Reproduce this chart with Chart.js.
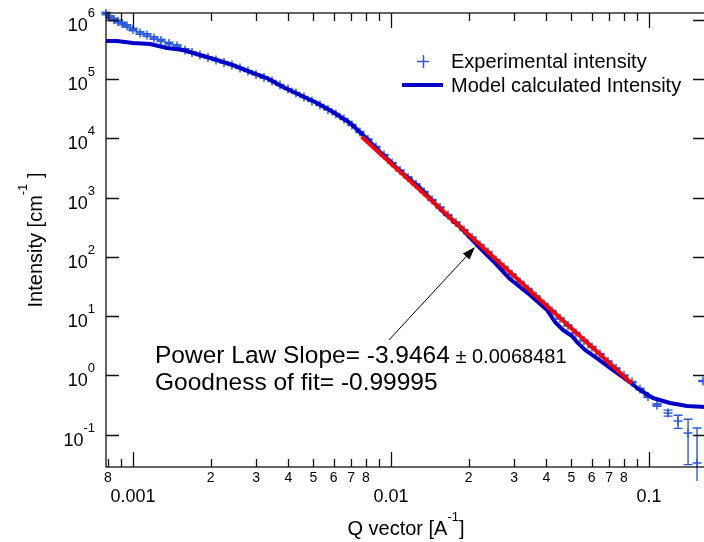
<!DOCTYPE html>
<html>
<head>
<meta charset="utf-8">
<script src="https://cdn.jsdelivr.net/npm/chart.js@4.4.1/dist/chart.umd.min.js"></script>
<style>
    html, body { margin: 0; padding: 0; background: #fff; overflow: hidden; }
    #wrap { width: 704px; height: 542px; overflow: hidden; }
</style>
</head>
<body>
<div id="wrap"><canvas id="chart" width="716" height="542"></canvas></div>
<script>

//
// Data
//

const expQ = [0.000786, 0.000814, 0.000844, 0.000875, 0.000907, 0.000948, 0.001, 0.001065, 0.001133, 0.001206,
    0.001284, 0.001379, 0.001481, 0.001591, 0.001693, 0.001818, 0.001953, 0.002098, 0.002253, 0.002419,
    0.002599, 0.002791, 0.002998, 0.003219, 0.003458, 0.003713, 0.003988, 0.004282, 0.004599, 0.004939,
    0.005305, 0.005697, 0.006118, 0.006571, 0.007057, 0.007579, 0.00814, 0.008742, 0.009395, 0.01009,
    0.01084, 0.01164, 0.0125, 0.01343, 0.01442, 0.01549, 0.01663, 0.01786, 0.01918, 0.0206,
    0.02213, 0.02376, 0.02552, 0.02741, 0.02944, 0.03162, 0.03396, 0.03648, 0.03917, 0.04207,
    0.04519, 0.04853, 0.05212, 0.05598, 0.06012, 0.06457, 0.06935, 0.07448, 0.07999, 0.08591,
    0.09227, 0.09911, 0.1074, 0.1185, 0.1296, 0.1417, 0.1535, 0.1619];

const expI = [1.29e6, 1.128e6, 1.024e6, 9.47e5, 8.76e5, 7.95e5, 6.94e5, 6.05e5, 5.60e5, 4.98e5,
    4.52e5, 4.02e5, 3.65e5, 3.13e5, 2.84e5, 2.57e5, 2.34e5, 2.12e5, 1.92e5, 1.74e5,
    1.55e5, 1.38e5, 1.21e5, 1.07e5, 9.36e4, 8.01e4, 6.86e4, 5.87e4, 5.02e4, 4.30e4,
    3.68e4, 3.09e4, 2.59e4, 2.14e4, 1.69e4, 1.29e4, 9620, 7190, 5260, 3860,
    2880, 2190, 1670, 1250, 914, 683, 510, 381, 285, 213,
    159, 121, 88.6, 67.5, 50.4, 37.7, 28.7, 21.4, 16.0, 12.2,
    9.11, 6.94, 5.18, 3.87, 3.01, 2.29, 1.71, 1.30, 0.992, 0.770,
    0.587, 0.438, 0.315, 0.231, 0.169, 0.106, 0.033, 0.801];

const expErr = [6.5e4, 5.6e4, 5.1e4, 4.7e4, 4.4e4, 4.0e4, 3.5e4, 3.0e4, 2.8e4, 2.5e4,
    2.3e4, 2.0e4, 1.8e4, 1.6e4, 5700, 5100, 4700, 4200, 3800, 3500,
    3100, 2800, 2400, 2100, 1900, 1600, 1400, 1200, 1000, 860,
    740, 620, 520, 430, 340, 260, 190, 140, 105, 77,
    58, 44, 33, 25, 18, 14, 10, 7.6, 5.7, 4.3,
    3.2, 2.4, 1.8, 1.4, 1.0, 0.75, 0.57, 0.43, 0.32, 0.24,
    0.18, 0.14, 0.10, 0.08, 0.06, 0.05, 0.04, 0.03, 0.025, 0.02,
    0.018, 0.016, 0.015, 0.027, 0.042, 0.075, 0.096, 0.02];

const modelQ = [0.000786, 0.000867, 0.001, 0.001164, 0.001355, 0.001563, 0.001818, 0.002116, 0.002441, 0.002842,
    0.003307, 0.003815, 0.004439, 0.005166, 0.00596, 0.006935, 0.00779, 0.009066, 0.01084, 0.01296,
    0.01549, 0.01851, 0.02154, 0.02486, 0.02892, 0.03458, 0.04024, 0.04321, 0.04642, 0.05029,
    0.05259, 0.05648, 0.06175, 0.0706, 0.08216, 0.09227, 0.1036, 0.1206, 0.1404, 0.1663];

const modelI = [4.44e5, 4.44e5, 4.10e5, 3.95e5, 3.38e5, 3.13e5, 2.57e5, 2.12e5, 1.74e5, 1.33e5,
    1.05e5, 7.41e4, 5.43e4, 3.98e4, 2.80e4, 1.83e4, 1.15e4, 5920, 2830, 1460,
    645, 320, 159, 85.3, 42.3, 22.7, 12.7, 7.95, 5.82, 4.61,
    3.65, 2.68, 2.04, 1.33, 0.832, 0.564, 0.414, 0.340, 0.303, 0.291];

// power law fit segment (end points)
const fitQ = [0.0077, 0.08568];
const fitI = [10720, 0.7325];

// arrow of the annotation: tail, head
const arrowQ = [0.00982, 0.02117];
const arrowI = [3.95, 146.9];

const xMajorTicks = [0.001, 0.01, 0.1];
const xMajorLabels = ["0.001", "0.01", "0.1"];
const xMinorTicks = [0.0008, 0.0009, 0.002, 0.003, 0.004, 0.005, 0.006, 0.007, 0.008, 0.009,
    0.02, 0.03, 0.04, 0.05, 0.06, 0.07, 0.08, 0.09];
const xMinorLabels = ["8", "", "2", "3", "4", "5", "6", "7", "8", "",
    "2", "3", "4", "5", "6", "7", "8", ""];

const yMajorTicks = [0.1, 1, 10, 100, 1000, 1e4, 1e5, 1e6];
const yExponents = ["-1", "0", "1", "2", "3", "4", "5", "6"];

const FONT = '"Liberation Sans", Arial, sans-serif';
const EXP_COLOR = "#2a5ade";
const MODEL_COLOR = "#0000c8";
const FIT_COLOR = "#ff0000";

//
// helpers
//

function drawRich(ctx, parts, x, y, align) {
    let w = 0;
    parts.forEach(p => {
        ctx.font = p.font;
        p.w = ctx.measureText(p.text).width;
        w += p.w;
    });
    let cx = align === "center" ? x - w / 2 : align === "right" ? x - w : x;
    ctx.textAlign = "left";
    ctx.textBaseline = "alphabetic";
    parts.forEach(p => {
        ctx.font = p.font;
        ctx.fillText(p.text, cx, y + (p.dy || 0));
        cx += p.w;
    });
}

//
// Error bars (under the markers)
//

const errorBarPlugin = {
    id: "errorBars",

    beforeDatasetsDraw(chart) {
        const { ctx, chartArea: { left, right, top, bottom }, scales: { x, y } } = chart;

        ctx.save();
        ctx.beginPath();
        ctx.rect(left - 8, top - 4, right - left + 8, bottom - top + 18);
        ctx.clip();

        ctx.strokeStyle = EXP_COLOR;
        ctx.lineWidth = 1.4;

        for (let i = 0; i < expQ.length; i++) {
            const px = x.getPixelForValue(expQ[i]);
            const hi = y.getPixelForValue(expI[i] + expErr[i]);
            const lowVal = expI[i] - expErr[i];
            const hasLow = lowVal > y.min;
            const lo = hasLow ? y.getPixelForValue(lowVal) : bottom + 14;

            ctx.beginPath();
            ctx.moveTo(px, hi);
            ctx.lineTo(px, lo);
            ctx.moveTo(px - 4.5, hi);
            ctx.lineTo(px + 4.5, hi);
            if (hasLow) {
                ctx.moveTo(px - 4.5, lo);
                ctx.lineTo(px + 4.5, lo);
            }
            ctx.stroke();
        }

        ctx.restore();
    }
};

//
// Igor style axes, labels, legend and annotation
//

const igorFramePlugin = {
    id: "igorFrame",

    afterDraw(chart) {
        const { ctx, chartArea: { left, right, top, bottom }, scales: { x, y } } = chart;

        ctx.save();

        // frame
        ctx.strokeStyle = "#111";
        ctx.lineWidth = 1.3;
        ctx.strokeRect(left, top, right - left, bottom - top);

        // x ticks, bottom and top, pointing inward
        ctx.beginPath();
        xMajorTicks.forEach(v => {
            const px = Math.round(x.getPixelForValue(v)) + 0.5;
            ctx.moveTo(px, bottom); ctx.lineTo(px, bottom - 15);
            ctx.moveTo(px, top); ctx.lineTo(px, top + 15);
        });
        xMinorTicks.forEach(v => {
            const px = Math.round(x.getPixelForValue(v)) + 0.5;
            ctx.moveTo(px, bottom); ctx.lineTo(px, bottom - 8);
            ctx.moveTo(px, top); ctx.lineTo(px, top + 8);
        });
        // y ticks, left and right
        yMajorTicks.forEach(v => {
            const py = Math.round(y.getPixelForValue(v)) + 0.5;
            ctx.moveTo(left, py); ctx.lineTo(left + 13, py);
            ctx.moveTo(right, py); ctx.lineTo(right - 13, py);
        });
        ctx.stroke();

        ctx.fillStyle = "#000";

        // x tick labels
        ctx.textAlign = "center";
        ctx.textBaseline = "alphabetic";
        ctx.font = "14px " + FONT;
        xMinorTicks.forEach((v, i) => {
            if (xMinorLabels[i]) ctx.fillText(xMinorLabels[i], x.getPixelForValue(v), bottom + 15);
        });
        ctx.font = "18px " + FONT;
        xMajorTicks.forEach((v, i) => {
            ctx.fillText(xMajorLabels[i], x.getPixelForValue(v), bottom + 35);
        });

        // y tick labels (10 with superscript)
        yMajorTicks.forEach((v, i) => {
            const py = y.getPixelForValue(v);
            drawRich(ctx, [
                { text: "10", font: "18px " + FONT },
                { text: yExponents[i], font: "13px " + FONT, dy: -14 }
            ], 95, py + 11, "right");
        });

        // axis titles
        drawRich(ctx, [
            { text: "Q vector [A", font: "20px " + FONT },
            { text: "-1", font: "13px " + FONT, dy: -14 },
            { text: "]", font: "20px " + FONT }
        ], (left + right) / 2, 535, "center");

        ctx.save();
        ctx.translate(42, (top + bottom) / 2);
        ctx.rotate(-Math.PI / 2);
        drawRich(ctx, [
            { text: "Intensity [cm", font: "20px " + FONT },
            { text: "-1", font: "13px " + FONT, dy: -15 },
            { text: " ]", font: "20px " + FONT }
        ], 0, 0, "center");
        ctx.restore();

        // legend
        ctx.strokeStyle = EXP_COLOR;
        ctx.lineWidth = 1.5;
        ctx.beginPath();
        ctx.moveTo(417, 61.5); ctx.lineTo(429, 61.5);
        ctx.moveTo(423.5, 55); ctx.lineTo(423.5, 68);
        ctx.stroke();

        ctx.strokeStyle = MODEL_COLOR;
        ctx.lineWidth = 4;
        ctx.beginPath();
        ctx.moveTo(402, 85); ctx.lineTo(443, 85);
        ctx.stroke();

        ctx.fillStyle = "#000";
        ctx.font = "20px " + FONT;
        ctx.textAlign = "left";
        ctx.fillText("Experimental intensity", 451, 68);
        ctx.fillText("Model calculated Intensity", 451, 92);

        // annotation arrow
        const x0 = x.getPixelForValue(arrowQ[0]);
        const y0 = y.getPixelForValue(arrowI[0]);
        const x1 = x.getPixelForValue(arrowQ[1]);
        const y1 = y.getPixelForValue(arrowI[1]);
        const ang = Math.atan2(y1 - y0, x1 - x0);

        ctx.strokeStyle = "#000";
        ctx.lineWidth = 1;
        ctx.beginPath();
        ctx.moveTo(x0, y0);
        ctx.lineTo(x1 - 10 * Math.cos(ang), y1 - 10 * Math.sin(ang));
        ctx.stroke();

        ctx.beginPath();
        ctx.moveTo(x1, y1);
        ctx.lineTo(x1 - 13 * Math.cos(ang) + 4.5 * Math.sin(ang), y1 - 13 * Math.sin(ang) - 4.5 * Math.cos(ang));
        ctx.lineTo(x1 - 13 * Math.cos(ang) - 4.5 * Math.sin(ang), y1 - 13 * Math.sin(ang) + 4.5 * Math.cos(ang));
        ctx.closePath();
        ctx.fill();

        // annotation text
        drawRich(ctx, [
            { text: "Power Law Slope= -3.9464", font: "24.5px " + FONT },
            { text: " \u00b1 0.0068481", font: "20px " + FONT }
        ], 155, 363, "left");
        drawRich(ctx, [
            { text: "Goodness of fit= -0.99995", font: "24.5px " + FONT }
        ], 155, 390, "left");

        ctx.restore();
    }
};

//
// Chart
//

const toPoints = (qs, is) => qs.map((q, i) => ({ x: q, y: is[i] }));

new Chart(document.getElementById("chart"), {
    type: "line",

    data: {
        datasets: [
            {
                label: "Power law fit",
                data: toPoints(fitQ, fitI),
                borderColor: FIT_COLOR,
                borderWidth: 4,
                pointRadius: 0
            },
            {
                label: "Model calculated Intensity",
                data: toPoints(modelQ, modelI),
                borderColor: MODEL_COLOR,
                borderWidth: 4,
                pointRadius: 0,
                borderJoinStyle: "round"
            },
            {
                label: "Experimental intensity",
                data: toPoints(expQ, expI),
                showLine: false,
                pointStyle: "cross",
                pointRadius: 4.5,
                pointBorderWidth: 1.5,
                pointBorderColor: EXP_COLOR,
                borderColor: EXP_COLOR,
                clip: 8
            }
        ]
    },

    options: {
        responsive: false,
        animation: false,
        events: [],

        layout: {
            padding: { left: 106, top: 13, right: 10, bottom: 75 }
        },

        scales: {
            x: { type: "logarithmic", min: 0.000786, max: 0.1663, display: false },
            y: { type: "logarithmic", min: 0.02825, max: 1.318e6, display: false }
        },

        plugins: {
            legend: { display: false },
            tooltip: { enabled: false }
        }
    },

    plugins: [errorBarPlugin, igorFramePlugin]
});
</script>
</body>
</html>
